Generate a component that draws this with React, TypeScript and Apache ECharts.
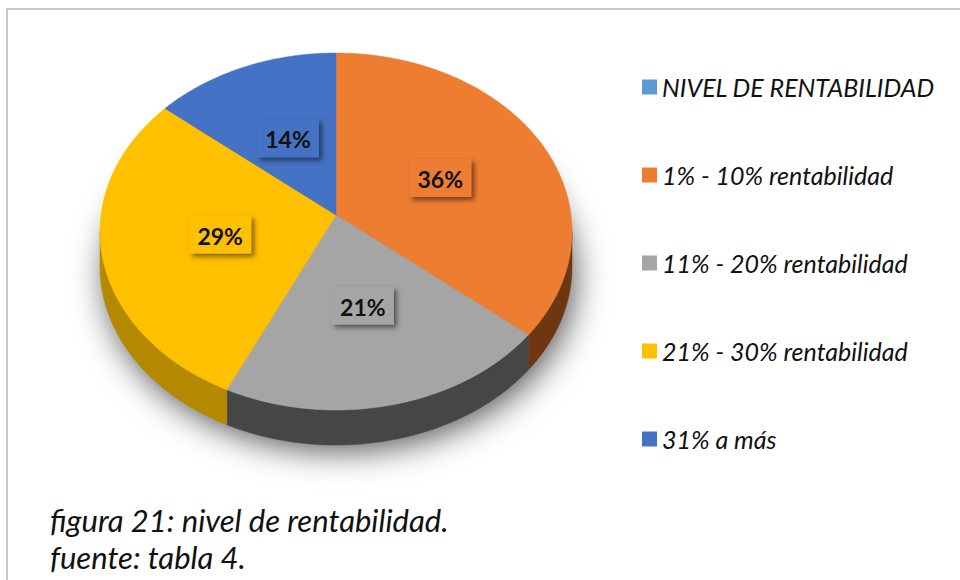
import React, { useEffect, useRef } from 'react';
import * as echarts from 'echarts';

// ---- data ----
const categories: string[] = [
  'NIVEL DE RENTABILIDAD',
  '1% - 10% rentabilidad',
  '11% - 20% rentabilidad',
  '21% - 30% rentabilidad',
  '31% a más',
];
const values: number[] = [0, 36, 21, 29, 14];
const sliceColors: string[] = ['#5B9BD5', '#ED7D31', '#A5A5A5', '#FFC000', '#4472C4'];
const sideColors: string[] = ['#3e6f9c', '#6e3712', '#464646', '#b48800', '#2f5597'];
const captionLines: string[] = ['figura 21: nivel de rentabilidad.', 'fuente: tabla 4.'];

// ---- geometry (style constants) ----
const CX = 336;
const CY = 231.5;
const RX = 236;
const RY = 178.5;
const TILT = 0.092;
const DEPTH = 35;
const SIDE_START = Math.acos(-TILT);
const SIDE_END = 2 * Math.PI - SIDE_START;
const FONT = 'Lato, "Open Sans", "DejaVu Sans", sans-serif';

function proj(r: number, theta: number, dy = 0): number[] {
  const u = r * Math.sin(theta);
  const v = r * Math.cos(theta);
  const d = 1 + TILT * v;
  const xp = (u * Math.sqrt(1 - TILT * TILT)) / d;
  const yp = (v + TILT) / d;
  return [CX + RX * xp, CY - RY * yp + dy];
}

function arc(a0: number, a1: number, dy = 0): number[][] {
  const n = Math.max(2, Math.ceil((a1 - a0) / (Math.PI / 360)));
  const pts: number[][] = [];
  for (let k = 0; k <= n; k++) pts.push(proj(1, a0 + ((a1 - a0) * k) / n, dy));
  return pts;
}

export default function App() {
  const ref = useRef<HTMLDivElement>(null);
  useEffect(() => {
    if (!ref.current) return;
    const chart = echarts.init(ref.current, undefined, { renderer: 'svg' });
    const total = values.reduce((a, b) => a + b, 0);
    const starts: number[] = [];
    let acc = 0;
    values.forEach((v) => {
      starts.push(acc);
      acc += v;
    });
    const firstNonZero = values.findIndex((v) => v > 0);

    const renderItem = (params: any, api: any) => {
      const i = params.dataIndex;
      const val = api.value(1) as number;
      if (!val) return null;
      const a0 = (starts[i] / total) * 2 * Math.PI;
      const a1 = ((starts[i] + val) / total) * 2 * Math.PI;
      const children: any[] = [];
      if (i === firstNonZero) {
        const sh: number[][] = [];
        for (let k = 0; k < 180; k++) {
          const t = (k / 180) * 2 * Math.PI;
          sh.push([CX + RX * 0.99 * Math.cos(t), CY + DEPTH + RY * 0.97 * Math.sin(t)]);
        }
        children.push({
          type: 'polygon',
          shape: { points: sh },
          style: {
            fill: '#8a8a8a',
            shadowBlur: 34,
            shadowColor: 'rgba(0,0,0,0.7)',
            shadowOffsetX: 4,
            shadowOffsetY: 10,
          },
          z2: 0,
        });
      }
      const lo = Math.max(a0, SIDE_START);
      const hi = Math.min(a1, SIDE_END);
      if (lo < hi) {
        const topArc = arc(lo, hi);
        const botArc = arc(lo, hi, DEPTH).reverse();
        children.push({
          type: 'polygon',
          shape: { points: topArc.concat(botArc) },
          style: { fill: sideColors[i], stroke: sideColors[i], lineWidth: 0.5 },
          z2: 1,
        });
      }
      const apex = proj(0, 0);
      children.push({
        type: 'polygon',
        shape: { points: [apex].concat(arc(a0, a1)) },
        style: { fill: sliceColors[i], stroke: sliceColors[i], lineWidth: 0.5 },
        z2: 2,
      });
      const mid = (a0 + a1) / 2;
      const [lx, ly] = proj(0.5, mid);
      children.push({
        type: 'rect',
        shape: { x: lx - 31, y: ly - 19, width: 62, height: 38 },
        style: {
          fill: sliceColors[i],
          shadowBlur: 5,
          shadowOffsetX: 3,
          shadowOffsetY: 3,
          shadowColor: 'rgba(0,0,0,0.5)',
        },
        z2: 3,
      });
      children.push({
        type: 'text',
        style: {
          text: val + '%',
          x: lx,
          y: ly + 1,
          align: 'center',
          verticalAlign: 'middle',
          textAlign: 'center',
          textVerticalAlign: 'middle',
          fontFamily: FONT,
          fontSize: 23,
          fontWeight: 'bold',
          fill: '#111111',
        },
        z2: 4,
      });
      return { type: 'group', children };
    };

    chart.setOption({
      animation: false,
      backgroundColor: '#ffffff',
      title: {
        text: captionLines.join('\n'),
        left: 50,
        top: 501.5,
        padding: 0,
        textStyle: {
          fontFamily: FONT,
          fontStyle: 'italic',
          fontWeight: 'normal',
          fontSize: 31,
          lineHeight: 37,
          color: '#111111',
        },
      },
      legend: {
        orient: 'vertical',
        left: 642,
        top: 74.5,
        padding: 0,
        itemWidth: 15,
        itemHeight: 15,
        itemGap: 63,
        icon: 'rect',
        selectedMode: false,
        data: categories,
        textStyle: {
          fontFamily: FONT,
          fontStyle: 'italic',
          fontSize: 25,
          lineHeight: 25,
          color: '#111111',
        },
      },
      graphic: [
        {
          type: 'rect',
          silent: true,
          z: -10,
          shape: { x: 7, y: 9, width: 1400, height: 1400 },
          style: { fill: 'none', stroke: '#c8c8c8', lineWidth: 2 },
        },
      ],
      series: [
        {
          type: 'pie',
          name: 'legend',
          center: [-300, -300],
          radius: [0, 1],
          silent: true,
          label: { show: false },
          labelLine: { show: false },
          data: categories.map((c, i) => ({
            name: c,
            value: values[i],
            itemStyle: { color: sliceColors[i] },
          })),
        },
        {
          type: 'custom',
          coordinateSystem: 'none',
          silent: true,
          renderItem,
          data: values.map((v, i) => [i, v]),
        },
      ],
    });
    return () => chart.dispose();
  }, []);
  return (
    <div
      ref={ref}
      style={{ position: 'absolute', left: 0, top: 0, width: 960, height: 580 }}
    />
  );
}
